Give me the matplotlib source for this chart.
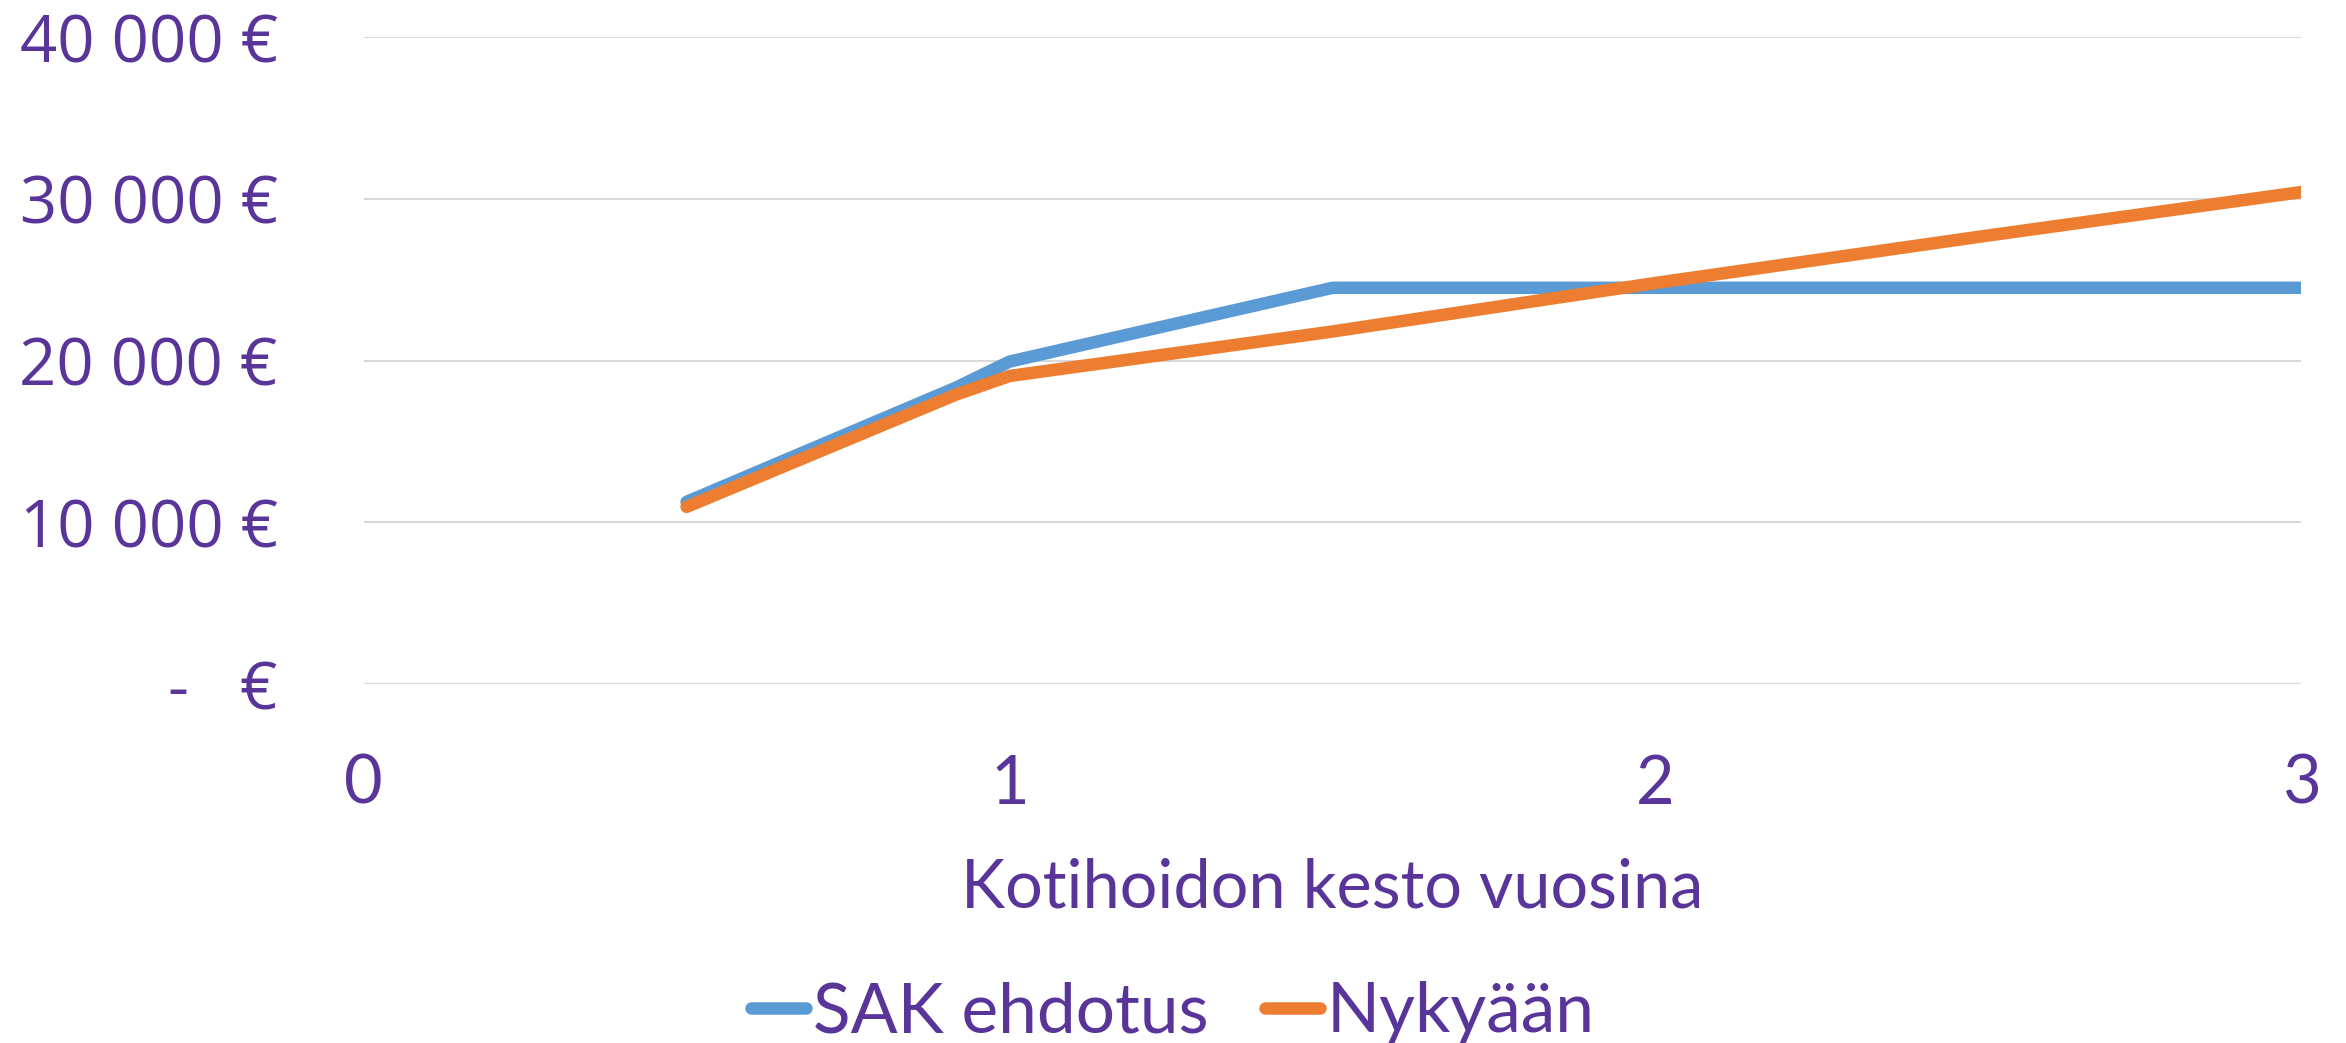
import matplotlib
matplotlib.use("Agg")
import matplotlib.pyplot as plt
from matplotlib.ticker import FixedLocator, FixedFormatter

# years of home care
years = [0.5, 0.917, 1, 1.5, 2, 2.5, 3]
sak = [11270, 18330, 19940, 24500, 24500, 24500, 24500]
nyt = [10960, 17900, 19050, 21800, 24800, 27650, 30420]
series_names = ['SAK ehdotus', 'Nykyään']
y_ticks = [0, 10000, 20000, 30000, 40000]
y_labels = ['-   €', '10 000 €', '20 000 €', '30 000 €', '40 000 €']
x_ticks = [0, 1, 2, 3]

purple = '#59359a'
blue = '#5b9bd5'
orange = '#ed7d31'

fig = plt.figure(figsize=(23.46, 10.43), dpi=100)
ax = fig.add_axes([0.155, 0.344, 0.826, 0.6205])

ax.plot(years, sak, color=blue, lw=9, solid_capstyle='round', solid_joinstyle='round',
        label=series_names[0])
ax.plot(years, nyt, color=orange, lw=9, solid_capstyle='round', solid_joinstyle='round',
        label=series_names[1])

ax.set_xlim(0, 3)
ax.set_ylim(0, 40000)
ax.yaxis.set_major_locator(FixedLocator(y_ticks))
ax.yaxis.set_major_formatter(FixedFormatter(y_labels))
ax.xaxis.set_major_locator(FixedLocator(x_ticks))
ax.grid(axis='y', color='#d9d9d9', lw=1.5)
ax.set_axisbelow(True)
for s in ax.spines.values():
    s.set_visible(False)
ax.tick_params(length=0)
ax.tick_params(axis='y', pad=62, labelsize=47, labelcolor=purple)
ax.tick_params(axis='x', pad=50, labelsize=48, labelcolor=purple)
for t in ax.get_yticklabels():
    t.set_fontfamily('Open Sans')
for t in ax.get_xticklabels():
    t.set_fontfamily('Lato')

ax.set_xlabel('Kotihoidon kesto vuosina', fontsize=48, color=purple,
              family='Lato', labelpad=30)

leg = fig.legend(loc='center', bbox_to_anchor=(0.5, 0.029), ncol=2, frameon=False,
                 handlelength=0.8, handletextpad=0.1, columnspacing=0.8,
                 prop={'family': 'Lato', 'size': 50})
for t in leg.get_texts():
    t.set_color(purple)
for l in leg.get_lines():
    l.set_solid_capstyle('round')
    l.set_linewidth(9)

fig.savefig('out.png', dpi=100)
